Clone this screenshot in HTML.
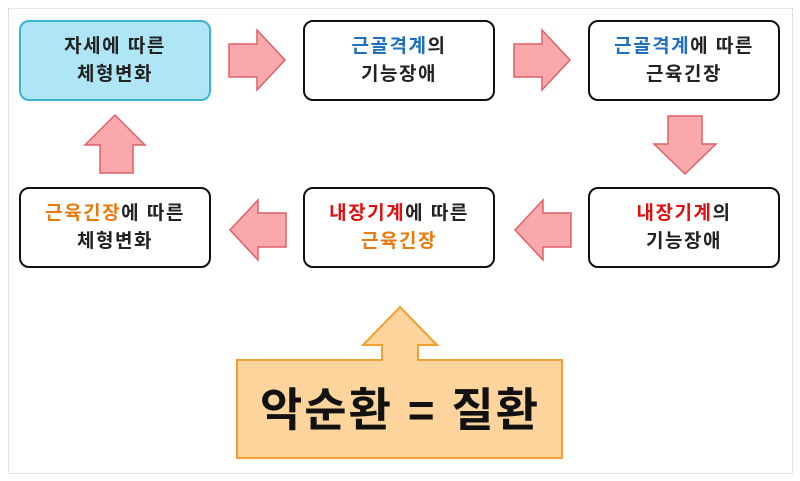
<!DOCTYPE html>
<html><head><meta charset="utf-8"><style>
body{margin:0;width:800px;height:481px;background:#fff;position:relative;overflow:hidden;font-family:"Liberation Sans","Noto Sans CJK KR",sans-serif;}
.frame{position:absolute;left:8px;top:8px;width:783px;height:464px;border:1px dotted #ccc;}
.box{position:absolute;width:188px;height:77px;border:2px solid #111;border-radius:10px;background:#fff;display:flex;align-items:center;justify-content:center;text-align:center;font-weight:bold;font-size:19px;letter-spacing:1.5px;line-height:28px;color:#222;}
.b{color:#1f6fc0}.r{color:#e01010}.o{color:#e87a10}
svg{position:absolute;left:0;top:0}
</style></head><body>
<div class="frame"></div>
<svg width="800" height="481">
<g fill="#f9a8ab" stroke="#e06068" stroke-width="1.5">
<polygon points="229,44 257,44 257,30 285,60 257,90 257,77 229,77"/>
<polygon points="514,44 542,44 542,30 570,60 542,90 542,77 514,77"/>
<polygon points="668,116 702,116 702,144 716,144 685,174 654,144 668,144"/>
<polygon points="286,213 258,213 258,200 230,230 258,260 258,247 286,247"/>
<polygon points="571,213 543,213 543,200 515,230 543,260 543,247 571,247"/>
<polygon points="100,173 133,173 133,145 145,145 115,115 85,145 100,145"/>
</g>
<polygon points="237,360 382,360 382,345 363,345 400,307 437,345 418,345 418,360 562,360 562,458 237,458" fill="#fdd49b" stroke="#f0a030" stroke-width="2"/>
<text x="400" y="426" text-anchor="middle" font-family="Liberation Sans, Noto Sans CJK KR, sans-serif" font-weight="bold" font-size="46" letter-spacing="2" fill="#111">악순환 = 질환</text>
</svg>
<div class="box" style="left:19px;top:20px;background:#aee6f5;border-color:#3bb3d6;">자세에 따른<br>체형변화</div>
<div class="box" style="left:303px;top:20px;"><span><span class="b">근골격계</span>의<br>기능장애</span></div>
<div class="box" style="left:588px;top:20px;"><span><span class="b">근골격계</span>에 따른<br>근육긴장</span></div>
<div class="box" style="left:19px;top:187px;"><span><span class="o">근육긴장</span>에 따른<br>체형변화</span></div>
<div class="box" style="left:303px;top:187px;"><span><span class="r">내장기계</span>에 따른<br><span class="o">근육긴장</span></span></div>
<div class="box" style="left:588px;top:187px;"><span><span class="r">내장기계</span>의<br>기능장애</span></div>
</body></html>
